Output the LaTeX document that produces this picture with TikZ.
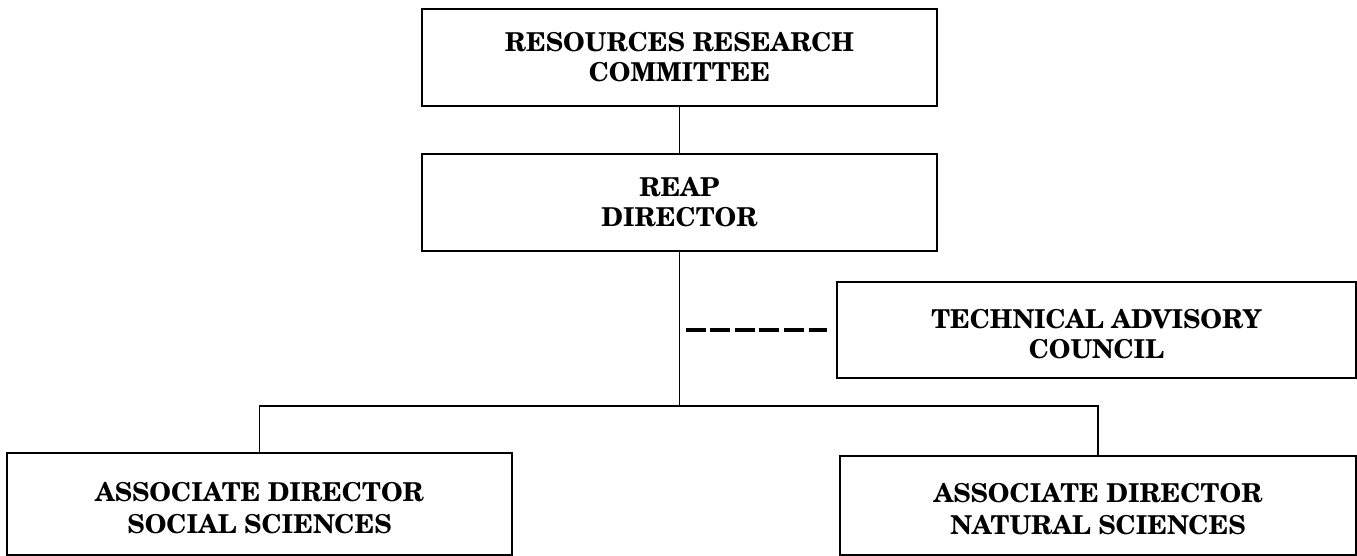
\documentclass[tikz,border=0pt]{standalone}
\usepackage{fontspec}
\setmainfont{texgyreschola}[Extension=.otf, UprightFont=*-regular, BoldFont=*-bold]
\usetikzlibrary{calc}
\newcommand{\dropstrut}{\rule{0pt}{27pt}}
\tikzset{
  orgbox/.style={draw, line width=1.6pt, inner sep=0pt, align=center,
    font=\bfseries\fontsize{26}{30}\selectfont},
  lowbox/.style={orgbox, font=\bfseries\fontsize{26}{32}\selectfont},
  link/.style={line width=1.3pt},
  advlink/.style={line width=4pt, dash pattern=on 20pt off 4.6pt}
}
\begin{document}
\begin{tikzpicture}[x=1pt, y=-1pt]
\useasboundingbox (0,0) rectangle (1357,556);
\node[orgbox, minimum width=515pt, minimum height=97pt] (rrc) at (679.5,57.5) {RESOURCES RESEARCH\\COMMITTEE};
\node[orgbox, minimum width=515pt, minimum height=97pt] (reap) at (679.5,202.5) {REAP\\DIRECTOR};
\node[orgbox, minimum width=519pt, minimum height=96pt] (tac) at (1096.5,330) {\dropstrut TECHNICAL ADVISORY\\COUNCIL};
\node[lowbox, minimum width=505pt, minimum height=102pt] (ss) at (259.5,504) {\dropstrut ASSOCIATE DIRECTOR\\SOCIAL SCIENCES};
\node[lowbox, minimum width=516pt, minimum height=99pt] (ns) at (1098,505.5) {\dropstrut ASSOCIATE DIRECTOR\\NATURAL SCIENCES};
\coordinate (bus) at (0,406);
\coordinate (junc) at (reap.south |- bus);
\draw[link] (rrc.south) -- (reap.north);
\draw[link] (reap.south) -- (junc);
\draw[link] (ss.north) |- (ns.north |- bus) -- (ns.north);
\coordinate (dstart) at ($(reap.south |- tac.west)+(6,0)$);
\coordinate (dend) at ($(tac.west)+(-9,0)$);
\draw[advlink] (dstart) -- (dend);
\end{tikzpicture}
\end{document}
